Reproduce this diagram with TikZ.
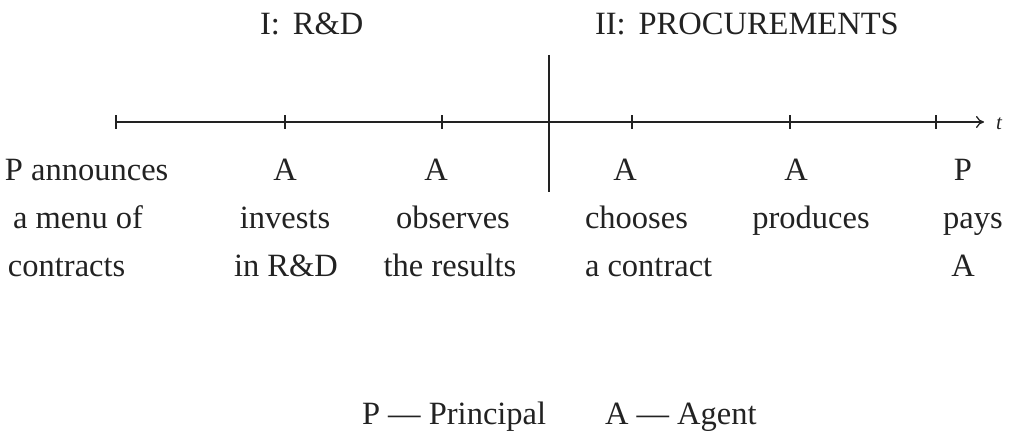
\documentclass[tikz,border=0pt]{standalone}
\usepackage{fontspec}
\setmainfont{Liberation Serif}
\usetikzlibrary{arrows.meta}
\definecolor{ink}{HTML}{222222}
\begin{document}
\begin{tikzpicture}[x=1pt,y=1pt,
  txt/.style={inner sep=0pt,outer sep=0pt,anchor=base,text=ink,font=\fontsize{32.5}{38}\selectfont},
  txtl/.style={txt,anchor=base west},
  axisline/.style={draw=ink,line width=2.3pt},
  tickline/.style={draw=ink,line width=1.3pt},
  divline/.style={draw=ink,line width=1.4pt}]
\useasboundingbox (0,0) rectangle (1009,-444);
% axis coordinates
\coordinate (t0) at (116,-122);
\coordinate (t1) at (285,-122);
\coordinate (t2) at (442,-122);
\coordinate (t3) at (632,-122);
\coordinate (t4) at (790,-122);
\coordinate (t5) at (936,-122);
\coordinate (tend) at (984,-122);
\coordinate (vtop) at (549,-55);
\coordinate (vbot) at (549,-192);
% axis
\draw[axisline,-{To[length=8pt,width=12pt,line width=1.3pt]}] (t0) -- (tend);
\foreach \c in {t0,t1,t2,t3,t4,t5}{
  \draw[tickline] ([yshift=7pt]\c) -- ([yshift=-7pt]\c);
}
\draw[divline] (vtop) -- (vbot);
\node[inner sep=0pt,anchor=base,text=ink,font=\fontsize{21}{24}\selectfont\itshape] (tl) at (999,-129) {t};
% titles
\node[txtl] (h1) at (260,-35) {I:\hspace{0.4em}R\&D};
\node[txtl] (h2) at (595,-35) {II:\hspace{0.4em}PROCUREMENTS};
% column 1
\node[txtl] (c1a) at (5,-180) {P announces};
\node[txtl] (c1b) at (13,-228) {a menu of};
\node[txtl] (c1c) at (8,-276) {contracts};
% column 2
\node[txt] (c2a) at (285,-180) {A};
\node[txt] (c2b) at (285,-228) {invests};
\node[txt] (c2c) at (286,-276) {in R\&D};
% column 3
\node[txt] (c3a) at (436,-180) {A};
\node[txt] (c3b) at (453,-228) {observes};
\node[txt] (c3c) at (450,-276) {the results};
% column 4
\node[txt] (c4a) at (625,-180) {A};
\node[txtl] (c4b) at (585,-228) {chooses};
\node[txtl] (c4c) at (585,-276) {a contract};
% column 5
\node[txt] (c5a) at (796,-180) {A};
\node[txt] (c5b) at (811,-228) {produces};
% column 6
\node[txt] (c6a) at (963,-180) {P};
\node[txt] (c6b) at (973,-228) {pays};
\node[txt] (c6c) at (963,-276) {A};
% legend
\node[txtl] (lp) at (362,-424) {P --- Principal};
\node[txtl] (la) at (605,-424) {A --- Agent};
\end{tikzpicture}
\end{document}
